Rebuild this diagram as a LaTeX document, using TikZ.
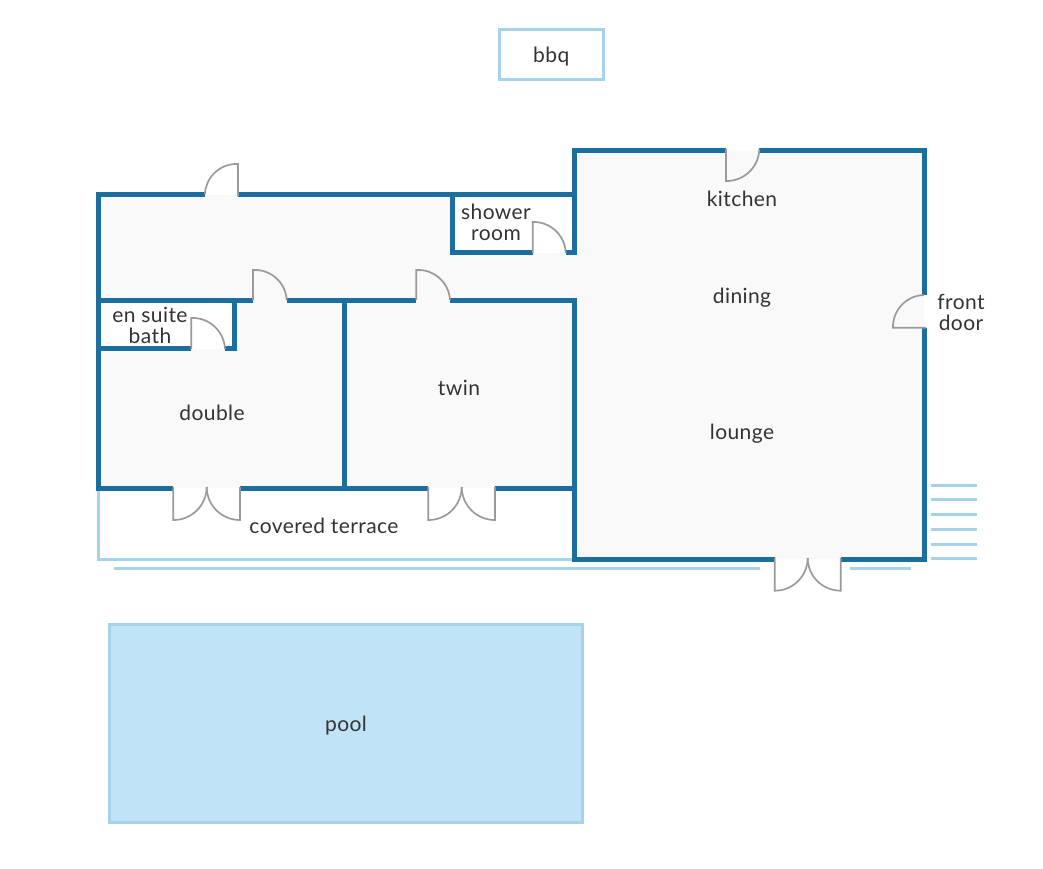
\documentclass[tikz,border=0pt]{standalone}
\usepackage{fontspec}
\setmainfont[LetterSpace=2]{Lato}
\definecolor{wallblue}{HTML}{1B6E9E}
\definecolor{lightblue}{HTML}{A5D3EA}
\definecolor{poolblue}{HTML}{C1E3F8}
\definecolor{doorgrey}{HTML}{9A9A9A}
\definecolor{floorgrey}{HTML}{F9F9F9}
\definecolor{textgrey}{HTML}{333333}
\tikzset{
wall/.style={draw=wallblue,line width=5pt,line join=miter},
outer/.style={draw=lightblue,line width=3pt},
doorline/.style={draw=doorgrey,line width=1.7pt},
room/.style={font=\fontsize{21}{21}\selectfont,text=textgrey,align=center,inner sep=0pt,outer sep=0pt}
}
\newcommand{\doorleft}[3]{\draw[doorline] (#1)--(#2) to[bend left=45] (#3);}
\newcommand{\doorright}[3]{\draw[doorline] (#1)--(#2) to[bend right=45] (#3);}
\begin{document}
\begin{tikzpicture}[x=1pt,y=-1pt]
\useasboundingbox (0,0) rectangle (1043,869);
% floors
\fill[floorgrey] (98,195)--(574,195)--(574,151)--(924,151)--(924,559)--(574,559)--(574,488)--(98,488)--cycle;
\fill[white] (98,300) rectangle (234,349);
\fill[white] (452,195) rectangle (574,253);
% terrace and steps
\draw[outer] (98,488)--(98,559.5)--(575,559.5);
\draw[outer] (114,568)--(760,568);
\draw[outer] (850,568)--(911,568);
\foreach \y in {485,499.7,514.5,529,544,558.7}
  \draw[outer] (931,\y)--(977,\y);
% pool and bbq
\node[draw=lightblue,line width=3.5pt,fill=poolblue,minimum width=473pt,minimum height=198pt,anchor=north west,room,text depth=0pt] (pool) at (109.5,624.5) {pool};
\node[draw=lightblue,line width=3pt,minimum width=103.5pt,minimum height=49.5pt,anchor=north west,room,text depth=0pt] (bbq) at (499.5,30) {bbq};
% walls
\draw[wall] (205,194.7)--(98,194.7)--(98,488.5)--(173.3,488.5);
\draw[wall] (238,194.7)--(574,194.7);
\draw[wall] (574,255)--(574,151)--(726,151);
\draw[wall] (759.3,151)--(924,151)--(924,295);
\draw[wall] (924,327.7)--(924,559)--(840.7,559);
\draw[wall] (774.7,559)--(574,559)--(574,300.3)--(450,300.3);
\draw[wall] (416.3,300.3)--(286.7,300.3);
\draw[wall] (253,300.3)--(98,300.3);
\draw[wall] (240,488.5)--(428.3,488.5);
\draw[wall] (495,488.5)--(574,488.5);
\draw[wall] (344,300.3)--(344,488.5);
\draw[wall] (98,348.7)--(191.3,348.7);
\draw[wall] (225,348.7)--(234,348.7)--(234,300.3);
\draw[wall] (452,194.7)--(452,252.7)--(532.7,252.7);
\draw[wall] (565.7,252.7)--(574,252.7);
% doors
\doorright{238,196}{238,164}{205,194}
\doorleft{253,300}{253,270}{286.7,300}
\doorleft{191.3,349}{191.3,318}{225,349}
\doorleft{416.3,300}{416.3,270}{450,300}
\doorleft{532.7,253}{532.7,222}{565.7,253}
\doorright{726,149}{726,181}{759.3,149}
\doorleft{926,327.7}{893,327.7}{924,295}
\doorright{173.3,487}{173.3,520}{206.7,487}
\doorleft{240,487}{240,520}{206.7,487}
\doorright{428.3,487}{428.3,520}{461.7,487}
\doorleft{495,487}{495,520}{461.7,487}
\doorright{774.7,558}{774.7,590.7}{807.7,558}
\doorleft{840.7,558}{840.7,590.7}{807.7,558}
% labels
\node[room] (kitchen) at (742,199) {kitchen};
\node[room] (dining) at (742,298) {dining};
\node[room] (lounge) at (742,434) {lounge};
\node[room] (frontdoor) at (961,312) {front\\door};
\node[room] (shower) at (496,222) {shower\\room};
\node[room] (ensuite) at (150,325) {en suite\\bath};
\node[room] (double) at (212,413) {double};
\node[room] (twin) at (459,388) {twin};
\node[room] (terrace) at (324,526) {covered terrace};
\end{tikzpicture}
\end{document}
